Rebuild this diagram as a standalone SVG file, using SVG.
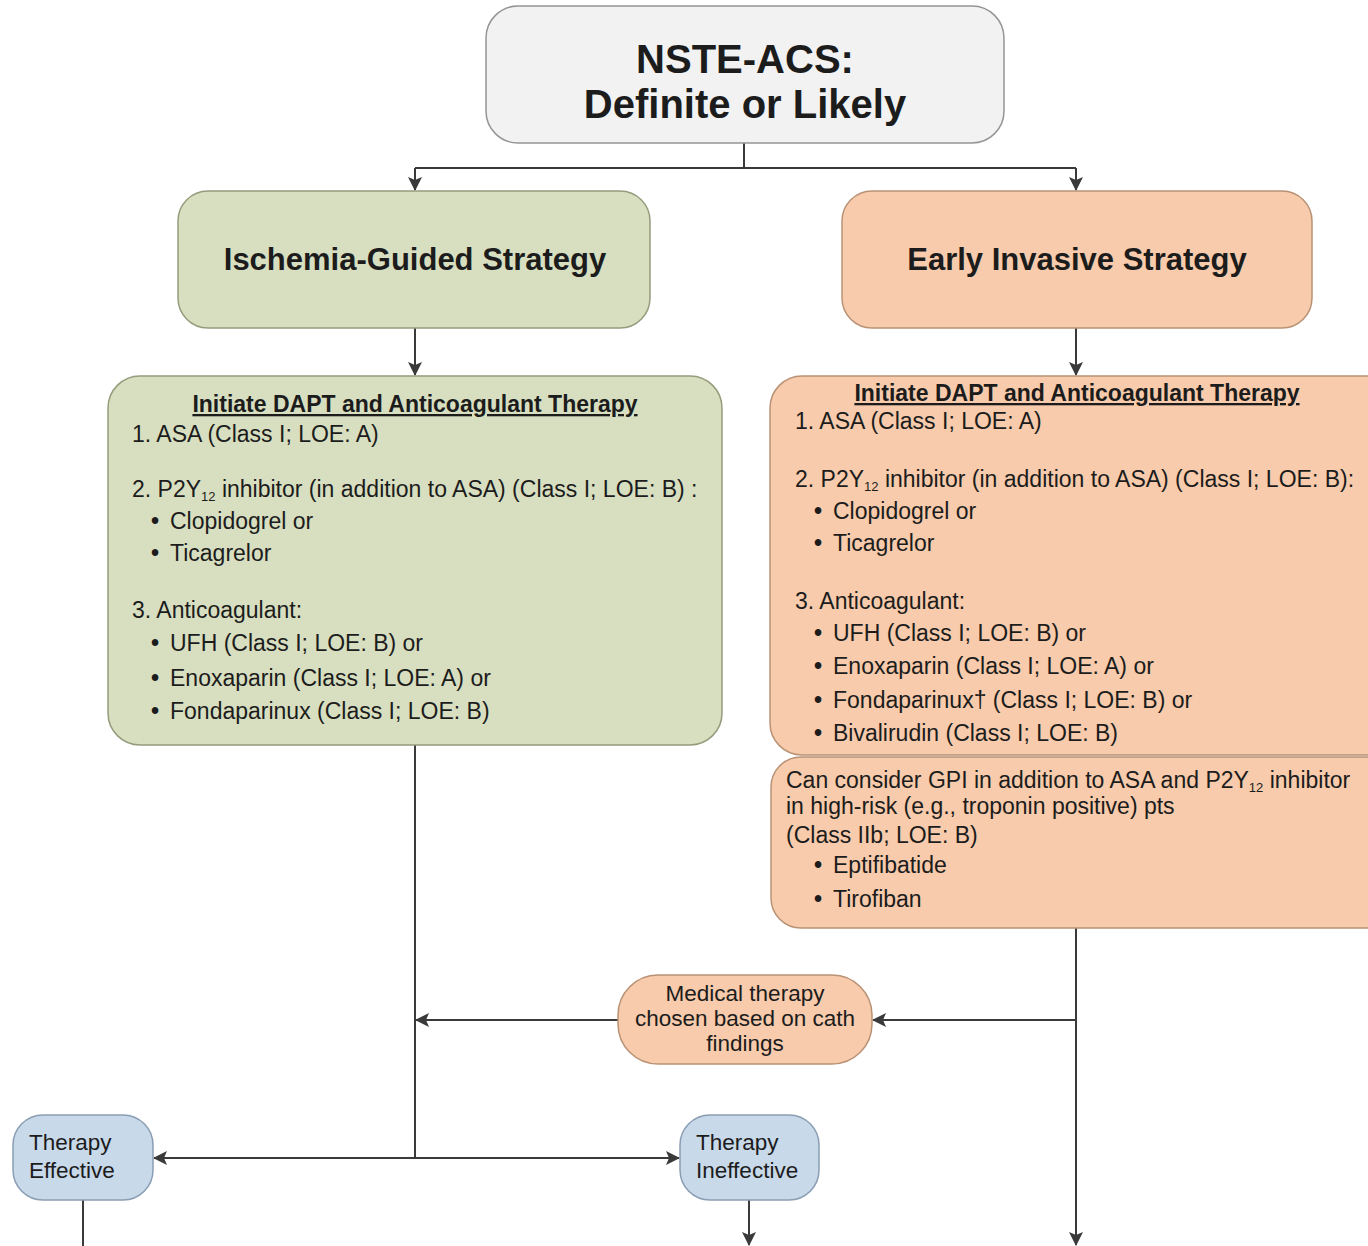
<svg xmlns="http://www.w3.org/2000/svg" width="1368" height="1246" viewBox="0 0 1368 1246">
<style>
text{font-family:"Liberation Sans",Arial,sans-serif;fill:#1c1c1c}
.t{font-size:23px}
.b{font-weight:bold}
.h{font-size:23px;font-weight:bold;text-decoration:underline}
.big{font-size:40px;font-weight:bold}
.st{font-size:31px;font-weight:bold}
.sm{font-size:22.5px}
.sub{font-size:13px}
.gray{fill:#f2f2f2;stroke:#959595;stroke-width:1.5}
.green{fill:#d8dfc0;stroke:#949c7c;stroke-width:1.5}
.peach{fill:#f7cbab;stroke:#b99276;stroke-width:1.5}
.blue{fill:#c8d9ea;stroke:#8a9db3;stroke-width:1.5}
.c{fill:none;stroke:#3a3a3a;stroke-width:2}
</style>
<defs>
<marker id="ah" viewBox="0 0 14 14" refX="13" refY="7" markerWidth="14" markerHeight="14" markerUnits="userSpaceOnUse" orient="auto">
<path d="M0,0 L14,7 L0,14 L3,7 Z" fill="#3a3a3a"/>
</marker>
</defs>
<rect width="1368" height="1246" fill="#ffffff"/>

<g id="connectors">
<path class="c" d="M744,143 V168"/>
<path class="c" d="M415,168 H1076"/>
<path class="c" d="M415,168 V190" marker-end="url(#ah)"/>
<path class="c" d="M1076,168 V190" marker-end="url(#ah)"/>
<path class="c" d="M415,328 V375" marker-end="url(#ah)"/>
<path class="c" d="M1076,328 V375" marker-end="url(#ah)"/>
<path class="c" d="M415,745 V1158"/>
<path class="c" d="M415,1158 H154" marker-end="url(#ah)"/>
<path class="c" d="M415,1158 H679" marker-end="url(#ah)"/>
<path class="c" d="M1076,928 V1245" marker-end="url(#ah)"/>
<path class="c" d="M1076,1020 H873" marker-end="url(#ah)"/>
<path class="c" d="M618,1020 H416" marker-end="url(#ah)"/>
<path class="c" d="M83,1200 V1246"/>
<path class="c" d="M749,1200 V1245" marker-end="url(#ah)"/>
</g>

<g id="nste-acs">
<rect class="gray" x="486" y="6" width="518" height="137" rx="32"/>
<text class="big" x="745" y="73" text-anchor="middle">NSTE-ACS:</text>
<text class="big" x="745" y="118" text-anchor="middle">Definite or Likely</text>
</g>

<g id="ischemia-guided">
<rect class="green" x="178" y="191" width="472" height="137" rx="30"/>
<text class="st" x="415" y="270" text-anchor="middle">Ischemia-Guided Strategy</text>
</g>

<g id="early-invasive">
<rect class="peach" x="842" y="191" width="470" height="137" rx="30"/>
<text class="st" x="1077" y="270" text-anchor="middle">Early Invasive Strategy</text>
</g>

<g id="left-therapy">
<rect class="green" x="108" y="376" width="614" height="369" rx="32"/>
<text class="h" x="415" y="412" text-anchor="middle">Initiate DAPT and Anticoagulant Therapy</text>
<text class="t" x="132" y="442">1. ASA (Class I; LOE: A)</text>
<text class="t" x="132" y="497">2. P2Y<tspan class="sub" dy="4">12</tspan><tspan dy="-4"> inhibitor (in addition to ASA) (Class I; LOE: B) :</tspan></text>
<text class="t" x="151" y="529"><tspan class="b">•</tspan><tspan x="170">Clopidogrel or</tspan></text>
<text class="t" x="151" y="561"><tspan class="b">•</tspan><tspan x="170">Ticagrelor</tspan></text>
<text class="t" x="132" y="618">3. Anticoagulant:</text>
<text class="t" x="151" y="651"><tspan class="b">•</tspan><tspan x="170">UFH (Class I; LOE: B) or</tspan></text>
<text class="t" x="151" y="686"><tspan class="b">•</tspan><tspan x="170">Enoxaparin (Class I; LOE: A) or</tspan></text>
<text class="t" x="151" y="719"><tspan class="b">•</tspan><tspan x="170">Fondaparinux (Class I; LOE: B)</tspan></text>
</g>

<g id="right-therapy">
<rect class="peach" x="770" y="376" width="640" height="379" rx="32"/>
<text class="h" x="1077" y="401" text-anchor="middle">Initiate DAPT and Anticoagulant Therapy</text>
<text class="t" x="795" y="429">1. ASA (Class I; LOE: A)</text>
<text class="t" x="795" y="487">2. P2Y<tspan class="sub" dy="4">12</tspan><tspan dy="-4"> inhibitor (in addition to ASA) (Class I; LOE: B):</tspan></text>
<text class="t" x="814" y="519"><tspan class="b">•</tspan><tspan x="833">Clopidogrel or</tspan></text>
<text class="t" x="814" y="551"><tspan class="b">•</tspan><tspan x="833">Ticagrelor</tspan></text>
<text class="t" x="795" y="609">3. Anticoagulant:</text>
<text class="t" x="814" y="641"><tspan class="b">•</tspan><tspan x="833">UFH (Class I; LOE: B) or</tspan></text>
<text class="t" x="814" y="674"><tspan class="b">•</tspan><tspan x="833">Enoxaparin (Class I; LOE: A) or</tspan></text>
<text class="t" x="814" y="708"><tspan class="b">•</tspan><tspan x="833">Fondaparinux† (Class I; LOE: B) or</tspan></text>
<text class="t" x="814" y="741"><tspan class="b">•</tspan><tspan x="833">Bivalirudin (Class I; LOE: B)</tspan></text>
</g>

<g id="gpi">
<rect class="peach" x="771" y="757" width="640" height="171" rx="30"/>
<text class="t" x="786" y="788">Can consider GPI in addition to ASA and P2Y<tspan class="sub" dy="4">12</tspan><tspan dy="-4"> inhibitor</tspan></text>
<text class="t" x="786" y="814">in high-risk (e.g., troponin positive) pts</text>
<text class="t" x="786" y="843">(Class IIb; LOE: B)</text>
<text class="t" x="814" y="873"><tspan class="b">•</tspan><tspan x="833">Eptifibatide</tspan></text>
<text class="t" x="814" y="907"><tspan class="b">•</tspan><tspan x="833">Tirofiban</tspan></text>
</g>

<g id="medical-therapy">
<rect class="peach" x="618" y="975" width="254" height="89" rx="40"/>
<text class="sm" x="745" y="1001" text-anchor="middle">Medical therapy</text>
<text class="sm" x="745" y="1026" text-anchor="middle">chosen based on cath</text>
<text class="sm" x="745" y="1051" text-anchor="middle">findings</text>
</g>

<g id="therapy-effective">
<rect class="blue" x="13" y="1115" width="140" height="85" rx="30"/>
<text class="sm" x="29" y="1150">Therapy</text>
<text class="sm" x="29" y="1178">Effective</text>
</g>

<g id="therapy-ineffective">
<rect class="blue" x="680" y="1115" width="139" height="85" rx="30"/>
<text class="sm" x="696" y="1150">Therapy</text>
<text class="sm" x="696" y="1178">Ineffective</text>
</g>
</svg>
